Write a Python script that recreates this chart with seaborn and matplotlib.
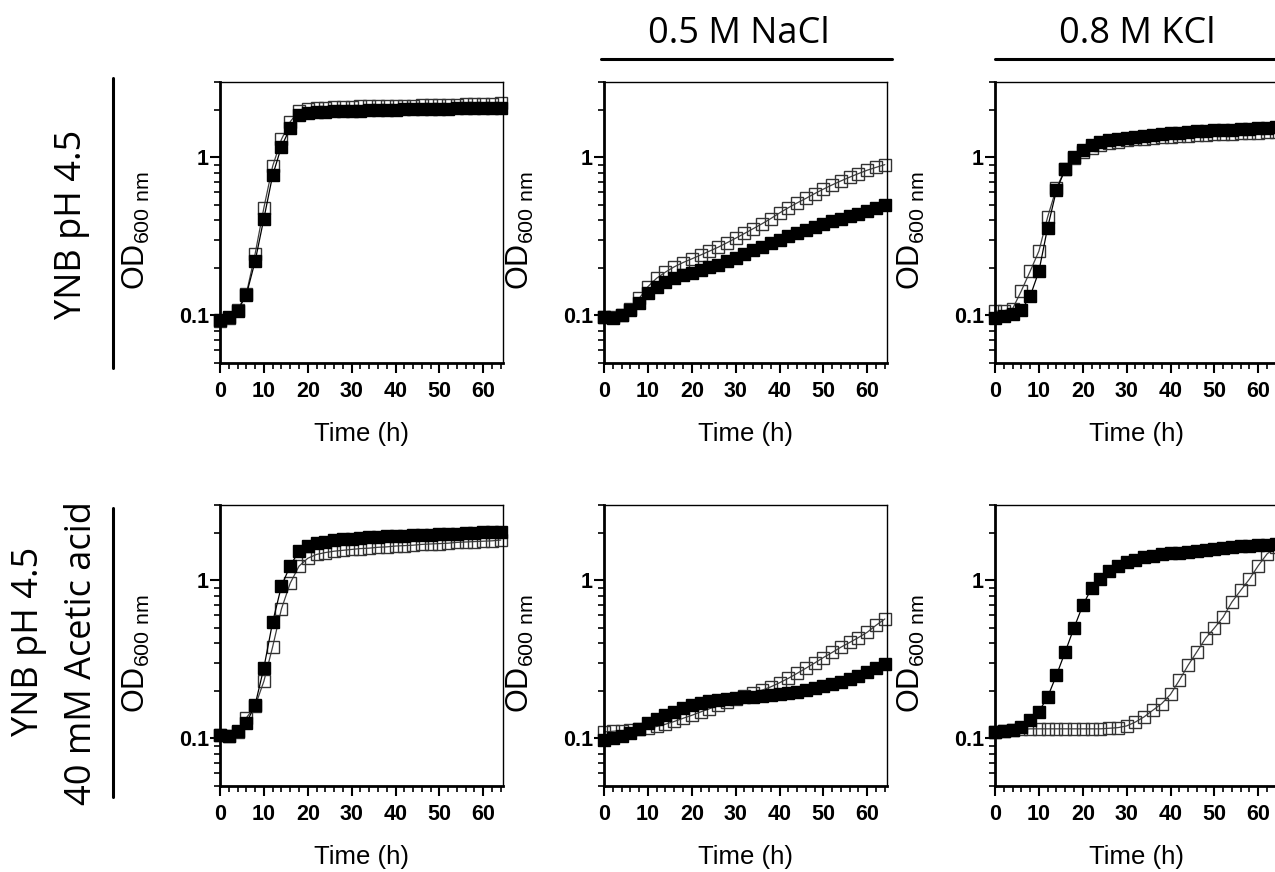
import matplotlib
matplotlib.use("Agg")
import matplotlib.pyplot as plt
import seaborn as sns
import numpy as np
from matplotlib.ticker import MultipleLocator, LogLocator, NullFormatter
from matplotlib.lines import Line2D

# sampling times (h)
hours = list(range(0, 65, 2))

# top row: YNB pH 4.5
ynb_filled = [0.093, 0.098, 0.107, 0.135, 0.22, 0.41, 0.77, 1.17, 1.54, 1.86, 1.92, 1.94, 1.95,
              1.96, 1.97, 1.98, 1.98, 1.99, 1.99, 2.0, 2.0, 2.01, 2.01, 2.02, 2.02, 2.03, 2.03,
              2.04, 2.04, 2.05, 2.05, 2.06, 2.06]
ynb_hollow = [0.092, 0.097, 0.108, 0.137, 0.245, 0.48, 0.88, 1.3, 1.68, 1.98, 2.03, 2.05, 2.06,
              2.07, 2.08, 2.09, 2.1, 2.1, 2.11, 2.11, 2.12, 2.13, 2.13, 2.14, 2.15, 2.15, 2.16,
              2.16, 2.17, 2.18, 2.18, 2.19, 2.2]
nacl_filled = [0.098, 0.097, 0.1, 0.108, 0.12, 0.138, 0.152, 0.163, 0.172, 0.179, 0.186, 0.194,
               0.202, 0.21, 0.22, 0.232, 0.245, 0.258, 0.272, 0.287, 0.302, 0.317, 0.332, 0.347,
               0.362, 0.378, 0.393, 0.408, 0.424, 0.44, 0.458, 0.478, 0.5]
nacl_hollow = [0.098, 0.098, 0.101, 0.11, 0.128, 0.152, 0.172, 0.188, 0.203, 0.216, 0.228, 0.241,
               0.255, 0.27, 0.288, 0.308, 0.33, 0.354, 0.38, 0.41, 0.445, 0.48, 0.515, 0.55,
               0.59, 0.63, 0.67, 0.71, 0.75, 0.79, 0.83, 0.865, 0.9]
kcl_filled = [0.096, 0.099, 0.102, 0.108, 0.132, 0.19, 0.36, 0.62, 0.84, 1.0, 1.12, 1.2, 1.25,
              1.28, 1.31, 1.33, 1.35, 1.37, 1.39, 1.4, 1.42, 1.43, 1.45, 1.46, 1.47, 1.48, 1.49,
              1.5, 1.51, 1.52, 1.53, 1.54, 1.55]
kcl_hollow = [0.106, 0.107, 0.11, 0.143, 0.19, 0.255, 0.42, 0.64, 0.84, 0.99, 1.08, 1.15, 1.2,
              1.23, 1.26, 1.28, 1.3, 1.31, 1.33, 1.34, 1.35, 1.36, 1.37, 1.38, 1.39, 1.4, 1.41,
              1.41, 1.42, 1.43, 1.43, 1.44, 1.45]

# bottom row: YNB pH 4.5 + 40 mM acetic acid
ac_filled = [0.105, 0.103, 0.111, 0.125, 0.163, 0.28, 0.545, 0.92, 1.24, 1.53, 1.66, 1.72, 1.76,
             1.79, 1.82, 1.84, 1.86, 1.87, 1.89, 1.9, 1.91, 1.92, 1.93, 1.94, 1.95, 1.96, 1.97,
             1.98, 1.99, 2.0, 2.01, 2.02, 2.03]
ac_hollow = [0.105, 0.104, 0.11, 0.135, 0.16, 0.23, 0.38, 0.66, 0.96, 1.23, 1.38, 1.46, 1.5,
             1.53, 1.55, 1.57, 1.59, 1.6, 1.62, 1.63, 1.65, 1.66, 1.67, 1.69, 1.7, 1.71, 1.72,
             1.74, 1.75, 1.76, 1.77, 1.78, 1.8]
ac_nacl_filled = [0.098, 0.1, 0.103, 0.108, 0.115, 0.125, 0.133, 0.14, 0.148, 0.156, 0.163, 0.168,
                  0.172, 0.175, 0.178, 0.181, 0.183, 0.184, 0.185, 0.187, 0.19, 0.194, 0.198,
                  0.203, 0.208, 0.214, 0.22, 0.228, 0.238, 0.25, 0.263, 0.278, 0.295]
ac_nacl_hollow = [0.11, 0.111, 0.112, 0.113, 0.114, 0.116, 0.119, 0.123, 0.128, 0.134, 0.14, 0.147,
                  0.154, 0.162, 0.17, 0.178, 0.186, 0.194, 0.202, 0.212, 0.225, 0.24, 0.258,
                  0.278, 0.3, 0.325, 0.35, 0.378, 0.405, 0.435, 0.47, 0.52, 0.57]
ac_kcl_filled = [0.11, 0.111, 0.113, 0.118, 0.13, 0.148, 0.183, 0.251, 0.353, 0.5, 0.695, 0.89,
                 1.02, 1.15, 1.24, 1.3, 1.35, 1.4, 1.43, 1.46, 1.48, 1.5, 1.52, 1.54, 1.56, 1.58,
                 1.6, 1.62, 1.64, 1.65, 1.67, 1.68, 1.7]
ac_kcl_hollow = [0.11, 0.112, 0.113, 0.114, 0.115, 0.115, 0.115, 0.115, 0.115, 0.115, 0.115, 0.115,
                 0.115, 0.116, 0.117, 0.12, 0.127, 0.137, 0.151, 0.166, 0.19, 0.233, 0.29, 0.353,
                 0.43, 0.5, 0.586, 0.73, 0.865, 1.02, 1.24, 1.47, 1.62]

xticks = [0, 10, 20, 30, 40, 50, 60]
xtick_labels = ["0", "10", "20", "30", "40", "50", "60"]
yticks = [0.1, 1]
ytick_labels = ["0.1", "1"]
col_titles = ["0.5 M NaCl", "0.8 M KCl"]

sns.set_theme(style="ticks")
plt.rcParams["font.family"] = ["Liberation Sans", "DejaVu Sans"]
plt.rcParams["text.color"] = "black"
plt.rcParams["axes.labelcolor"] = "black"
plt.rcParams["xtick.color"] = "black"
plt.rcParams["ytick.color"] = "black"

W, H = 1275, 872
fig = plt.figure(figsize=(W / 100, H / 100), dpi=100)


def panel(left, top, hollow, filled):
    ax = fig.add_axes([left / W, 1 - (top + 281) / H, 283 / W, 281 / H])
    sns.lineplot(x=hours, y=hollow, ax=ax, color="0.25", lw=0.9, marker="s", ms=8.3,
                 mfc="none", mec="0.2", mew=1.0, clip_on=False)
    sns.lineplot(x=hours, y=filled, ax=ax, color="black", lw=0.9, marker="s", ms=8.3,
                 mfc="black", mec="black", mew=1.0, clip_on=False)
    ax.set_yscale("log")
    ax.set_ylim(0.05, 3)
    ax.set_xlim(0, 64.5)
    ax.set_xticks(xticks, labels=xtick_labels, fontweight="bold")
    ax.xaxis.set_minor_locator(MultipleLocator(2))
    ax.set_yticks(yticks, labels=ytick_labels, fontweight="bold")
    ax.yaxis.set_minor_locator(LogLocator(base=10, subs=np.arange(2, 10), numticks=20))
    ax.yaxis.set_minor_formatter(NullFormatter())
    ax.tick_params(which="major", direction="out", length=7, width=1.5, labelsize=15.5)
    ax.tick_params(which="minor", direction="out", length=4.5, width=1.2)
    ax.tick_params(axis="x", pad=6)
    ax.tick_params(axis="y", pad=1)
    for side in ["left", "bottom"]:
        ax.spines[side].set_linewidth(2)
    for side in ["top", "right"]:
        ax.spines[side].set_linewidth(1)
    for s in ax.spines.values():
        s.set_color("black")
    ax.set_xlabel("Time (h)", fontsize=18.5, labelpad=14)
    ax.set_ylabel(r"OD$_{\mathregular{600\ nm}}$", fontsize=22)
    ax.yaxis.set_label_coords(-68 / 283, 0.47)
    return ax


panel(220, 82, ynb_hollow, ynb_filled)
panel(604, 82, nacl_hollow, nacl_filled)
panel(995, 82, kcl_hollow, kcl_filled)
panel(220, 505, ac_hollow, ac_filled)
panel(604, 505, ac_nacl_hollow, ac_nacl_filled)
panel(995, 505, ac_kcl_hollow, ac_kcl_filled)

# column headers with bars
fig.text(739 / W, 1 - 34 / H, col_titles[0], family="Open Sans", fontsize=26,
         ha="center", va="center")
fig.text(1137 / W, 1 - 34 / H, col_titles[1], family="Open Sans", fontsize=26,
         ha="center", va="center")
fig.add_artist(Line2D([601 / W, 892 / W], [1 - 59 / H] * 2, color="black", lw=2.2))
fig.add_artist(Line2D([995 / W, 1290 / W], [1 - 59 / H] * 2, color="black", lw=2.2))

# row labels with bars
fig.text(72 / W, 1 - 224 / H, "YNB pH 4.5", family="Open Sans", fontsize=26,
         rotation=90, ha="center", va="center")
fig.text(29 / W, 1 - 641 / H, "YNB pH 4.5", family="Open Sans", fontsize=26,
         rotation=90, ha="center", va="center")
fig.text(82 / W, 1 - 653 / H, "40 mM Acetic acid", family="Open Sans", fontsize=26,
         rotation=90, ha="center", va="center")
fig.add_artist(Line2D([113 / W] * 2, [1 - 78 / H, 1 - 368 / H], color="black", lw=2.2))
fig.add_artist(Line2D([113 / W] * 2, [1 - 508 / H, 1 - 797 / H], color="black", lw=2.2))

fig.savefig("out.png", dpi=100, facecolor="white")
